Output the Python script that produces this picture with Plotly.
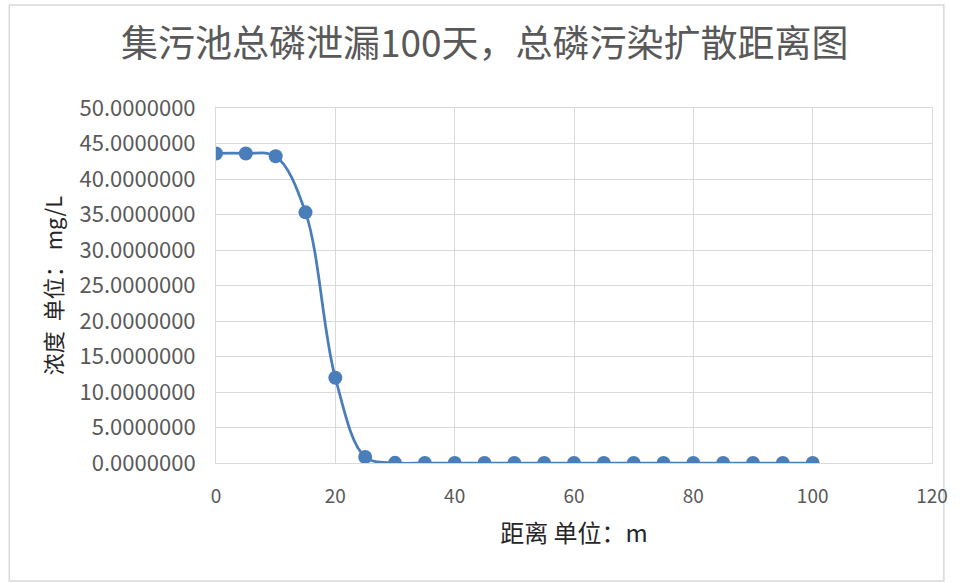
import plotly.graph_objects as go

# Distance from the pond (m) and total-phosphorus concentration (mg/L)
distance_m = [0, 5, 10, 15, 20, 25, 30, 35, 40, 45, 50, 55, 60, 65, 70, 75, 80, 85, 90, 95, 100]
concentration = [43.6, 43.6, 43.2, 35.3, 12.0, 0.85, 0.02, 0.0, 0.0, 0.0, 0.0,
                 0.0, 0.0, 0.0, 0.0, 0.0, 0.0, 0.0, 0.0, 0.0, 0.0]

x_ticks = [0, 20, 40, 60, 80, 100, 120]
y_ticks = [0, 5, 10, 15, 20, 25, 30, 35, 40, 45, 50]

title_text = "集污池总磷泄漏100天，总磷污染扩散距离图"
x_title = "距离 单位：m"
y_title = "浓度  单位： mg/L"

cjk = "Noto Sans CJK SC, Noto Sans, sans-serif"
blue = "#4a7ebb"
grid = "#d9d9d9"
grey = "#595959"

fig = go.Figure()
fig.add_trace(go.Scatter(
    x=distance_m, y=concentration, mode="lines+markers",
    line=dict(color=blue, width=2.75, shape="spline", smoothing=1.0),
    marker=dict(color=blue, size=14, line=dict(width=0)),
    showlegend=False, hoverinfo="x+y",
))

fig.update_layout(
    width=960, height=583,
    margin=dict(l=216, r=20, t=108, b=120),
    paper_bgcolor="white", plot_bgcolor="white",
    font=dict(family=cjk, color=grey),
    title=dict(text=title_text, x=0.505, xanchor="center", y=0.925, yanchor="middle",
               font=dict(size=37, color=grey, family=cjk)),
    xaxis=dict(range=[0, 120], tickvals=x_ticks, ticktext=[str(v) for v in x_ticks],
               showgrid=True, gridcolor=grid, gridwidth=1, zeroline=False,
               showline=True, linecolor=grid, mirror=True, ticks="",
               ticklabelstandoff=16,
               tickfont=dict(size=19, color=grey, family=cjk),
               title=dict(text=x_title, font=dict(size=24, color="#262626", family=cjk), standoff=18)),
    yaxis=dict(range=[0, 50], tickvals=y_ticks, tickformat=".7f",
               showgrid=True, gridcolor=grid, gridwidth=1, zeroline=False,
               showline=True, linecolor=grid, mirror=True, ticks="",
               ticklabelstandoff=15,
               tickfont=dict(size=22, color=grey, family=cjk),
               title=dict(text=y_title, font=dict(size=22, color="#262626", family=cjk), standoff=10)),
)

# light frame around the whole chart
fig.add_shape(type="rect", xref="paper", yref="paper",
              x0=(7 - 216) / 724, x1=(952 - 216) / 724,
              y0=(463 - 581) / 355, y1=(463 - 5) / 355,
              line=dict(color="#d9d9d9", width=1.5), fillcolor="rgba(0,0,0,0)", layer="below")

fig.write_html("out.html")
